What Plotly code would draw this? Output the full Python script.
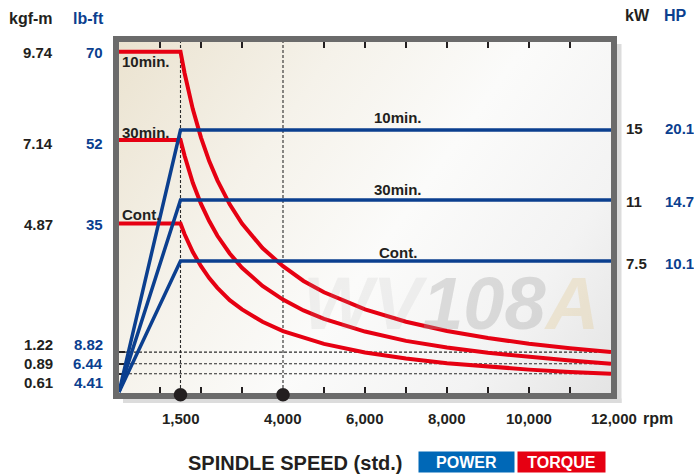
import base64
import plotly.graph_objects as go

# ---------------- data ----------------
power_labels = ["10min.", "30min.", "Cont."]
power_kw = [15, 11, 7.5]
power_hp = ["20.1", "14.7", "10.1"]
power_rpm = [0, 1500, 12000]

torque_labels = ["10min.", "30min.", "Cont."]
torque_lbft = [70, 52, 35]
torque_kgfm = ["9.74", "7.14", "4.87"]

curve_rpm = [0, 1500, 1600, 1700, 1800, 2000, 2200, 2400, 2700, 3000, 3500,
             4000, 4500, 5000, 6000, 7000, 8000, 9000, 10000, 11000, 12000]
torque_10min = [70, 70, 65.6, 61.8, 58.3, 52.5, 47.7, 43.8, 38.9, 35.0, 30.0,
                26.3, 23.3, 21.0, 17.5, 15.0, 13.1, 11.7, 10.5, 9.6, 8.82]
torque_30min = [52, 52, 48.8, 45.9, 43.3, 39.0, 35.5, 32.5, 28.9, 26.0, 22.3,
                19.5, 17.3, 15.6, 13.0, 11.1, 9.75, 8.67, 7.8, 7.1, 6.44]
torque_cont = [35, 35, 32.8, 30.9, 29.2, 26.3, 23.9, 21.9, 19.4, 17.5, 15.0,
               13.1, 11.7, 10.5, 8.75, 7.5, 6.56, 5.83, 5.25, 4.77, 4.41]
torque_curves = [torque_10min, torque_30min, torque_cont]

end_lbft = [8.82, 6.44, 4.41]
end_kgfm = ["1.22", "0.89", "0.61"]

marker_rpm = [1500, 4000]
tick_rpm = [1000, 2000, 3000, 5000, 6000, 7000, 8000, 9000, 10000, 11000]
label_rpm = [1500, 4000, 6000, 8000, 10000, 12000]
label_rpm_text = ["1,500", "4,000", "6,000", "8,000", "10,000", "12,000"]

# ---------------- styling ----------------
W, H = 694, 476
L, R, T, B = 119, 83, 42, 83
PW, PH = W - L - R, H - T - B
RED = "#e60012"
NAVY = "#0b3f8f"
DARK = "#231f20"
FRAME = "#6b6b6b"
FONT = "Liberation Sans, Arial, sans-serif"


def px(xp):
    return (xp - L) / PW


def py(yp):
    return (H - B - yp) / PH


fig = go.Figure()

# horizontal dashed reference lines at the end torque values
for v in end_lbft:
    fig.add_trace(go.Scatter(x=[curve_rpm[0], curve_rpm[-1]], y=[v, v], mode="lines",
                             line=dict(color="#2b2b2b", width=1.1, dash="3px,2px"),
                             hoverinfo="skip", showlegend=False))

# torque curves
for tc in torque_curves:
    fig.add_trace(go.Scatter(x=curve_rpm, y=tc, mode="lines",
                             line=dict(color=RED, width=4), showlegend=False))

# power lines
for p in power_kw:
    fig.add_trace(go.Scatter(x=power_rpm, y=[0, p, p], mode="lines", yaxis="y2",
                             line=dict(color=NAVY, width=3.5), showlegend=False))

shapes = []
for r in marker_rpm:
    shapes.append(dict(type="line", xref="x", yref="paper", x0=r, x1=r, y0=0, y1=1,
                       line=dict(color="#2b2b2b", width=1.1, dash="3px,2px"), layer="below"))
# drop shadow of the frame
shapes.append(dict(type="rect", xref="paper", yref="paper", x0=px(616.5), x1=px(621.5),
                   y0=py(403), y1=py(44), fillcolor="#dcdcdc", line=dict(width=0), layer="below"))
shapes.append(dict(type="rect", xref="paper", yref="paper", x0=px(123), x1=px(621.5),
                   y0=py(403), y1=py(398.5), fillcolor="#dcdcdc", line=dict(width=0), layer="below"))
# black dots on the bottom frame at the marked speeds
for r in marker_rpm:
    shapes.append(dict(type="circle", xref="x", yref="paper", xsizemode="pixel",
                       ysizemode="pixel", xanchor=r, yanchor=py(394.7),
                       x0=-6.8, x1=6.8, y0=-6.8, y1=6.8,
                       fillcolor=DARK, line=dict(width=0), layer="above"))

ann = []


def txt(text, x, y, xref="paper", yref="paper", xanchor="center", size=15, color=DARK,
        yshift=0, xshift=0, **kw):
    d = dict(text=text, x=x, y=y, xref=xref, yref=yref, xanchor=xanchor, yanchor="middle",
             showarrow=False, yshift=yshift, xshift=xshift,
             font=dict(family=FONT, size=size, color=color, weight="bold"))
    d.update(kw)
    ann.append(d)


# watermark
ann.append(dict(text="<i><b><span style='color:rgba(170,170,170,0.14)'>WV</span>"
                     "<span style='color:rgba(160,160,160,0.32)'>108</span>"
                     "<span style='color:rgba(225,200,140,0.30)'>A</span></b></i>",
                x=px(451), y=py(303), xref="paper", yref="paper", showarrow=False,
                xanchor="center", yanchor="middle",
                font=dict(family=FONT, size=74, color="#dddddd")))

# headers
txt("kgf-m", px(31), py(18), size=16)
txt("lb-ft", px(88), py(18), size=16, color=NAVY)
txt("kW", px(637), py(16), size=16)
txt("HP", px(675), py(16), size=16, color=NAVY)

# left axis labels
left_vals = torque_lbft + end_lbft
left_kgf = torque_kgfm + end_kgfm
left_nudge = [-1, -3, -1, 8, 0, -9]
for v, k, n in zip(left_vals, left_kgf, left_nudge):
    txt(k, px(55), v, yref="y", xanchor="right", yshift=n)
    txt(f"{v:g}", px(105), v, yref="y", xanchor="right", yshift=n, color=NAVY)

# right axis labels
right_nudge = [2, -2, -2]
for p, hp, n in zip(power_kw, power_hp, right_nudge):
    txt(f"{p:g}", px(624), p, yref="y2", xanchor="left", yshift=n)
    txt(hp, px(663), p, yref="y2", xanchor="left", yshift=n, color=NAVY)

# curve labels
torque_label_shift = [-9.5, 7.5, 9.5]
for lab, v, s in zip(torque_labels, torque_lbft, torque_label_shift):
    txt(lab, curve_rpm[0], v, xref="x", yref="y", xanchor="left", xshift=1, yshift=s)
power_label_shift = [13, 10, 8.5]
for lab, p, s in zip(power_labels, power_kw, power_label_shift):
    txt(lab, 6800, p, xref="x", yref="y2", yshift=s)

# x labels
for r, t in zip(label_rpm, label_rpm_text):
    txt(t, r, py(419), xref="x", xshift=3 if r == label_rpm[-1] else 0)
txt("rpm", px(641), py(418), xanchor="left", size=16)

# bottom caption / legend
txt("SPINDLE SPEED (std.)", px(295), py(463), size=20)
txt("POWER", px(466), py(462.3), size=16, color="white", bgcolor="#0068b7",
    width=95, height=20, borderpad=0)
txt("TORQUE", px(561.7), py(462.3), size=16, color="white", bgcolor=RED,
    width=87, height=20, borderpad=0)

# gradient background as svg image
svg = ("<svg xmlns='http://www.w3.org/2000/svg' width='%d' height='%d' viewBox='0 0 %d %d' "
       "preserveAspectRatio='none'><defs><linearGradient id='g' gradientUnits='userSpaceOnUse' "
       "x1='0' y1='0' x2='%d' y2='%d'>"
       "<stop offset='0' stop-color='#ebe3d0'/><stop offset='0.3' stop-color='#f5f2ea'/>"
       "<stop offset='0.55' stop-color='#fbfbfa'/><stop offset='0.8' stop-color='#f3f3f3'/>"
       "<stop offset='1' stop-color='#e4e4e4'/></linearGradient></defs>"
       "<rect width='%d' height='%d' fill='url(#g)'/></svg>") % (PW, PH, PW, PH, PW, PH, PW, PH)
src = "data:image/svg+xml;base64," + base64.b64encode(svg.encode()).decode()

fig.update_layout(
    width=W, height=H, margin=dict(l=L, r=R, t=T, b=B),
    paper_bgcolor="white", plot_bgcolor="#f8f7f4",
    showlegend=False, shapes=shapes, annotations=ann,
    images=[dict(source=src, xref="paper", yref="paper", x=0, y=1, sizex=1, sizey=1,
                 xanchor="left", yanchor="top", sizing="stretch", layer="below")],
    xaxis=dict(range=[0, 12000], showgrid=False, zeroline=False, showline=True,
               linecolor=FRAME, linewidth=5.5, mirror="ticks", ticks="inside",
               tickvals=tick_rpm, ticklen=6, tickwidth=2, tickcolor=DARK,
               showticklabels=False, layer="below traces", fixedrange=True),
    yaxis=dict(range=[0.49, 71.96], showgrid=False, zeroline=False, showline=True,
               linecolor=FRAME, linewidth=5.5, mirror=True, ticks="inside",
               tickvals=end_lbft, ticklen=6, tickwidth=2, tickcolor=DARK,
               showticklabels=False, layer="below traces", fixedrange=True),
    yaxis2=dict(range=[-0.054, 20.04], overlaying="y", visible=False, fixedrange=True),
)

fig.write_html("out.html", config={"displayModeBar": False},
               post_script="document.body.style.margin='0px';")
